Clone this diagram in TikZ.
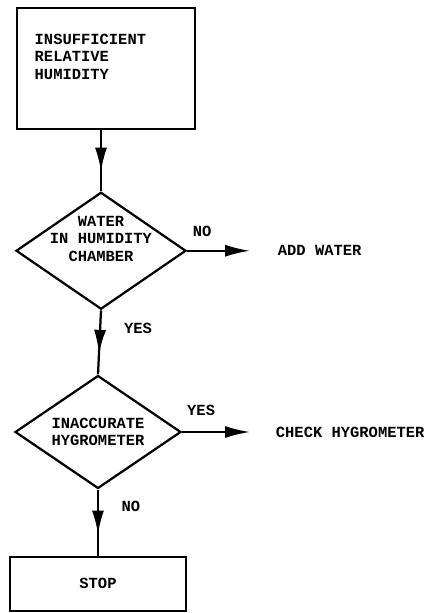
\documentclass[tikz,border=0pt]{standalone}
\usepackage{fontspec}
\setmonofont{Liberation Mono}
\usetikzlibrary{arrows.meta, positioning, shapes.geometric, decorations.markings}

\begin{document}
\begin{tikzpicture}[line width=1.6pt,
  every node/.style={font=\ttfamily\bfseries\fontsize{11}{12.5}\selectfont},
  box/.style={draw, rectangle, inner sep=0pt},
  decision/.style={draw, diamond, aspect=1.45, inner sep=0pt, align=center},
  txt/.style={align=center},
  flow/.style={postaction={decorate}, decoration={markings,
    mark=at position 0.68 with {\arrow{Latex[length=6mm,width=3mm]}}}},
  exit/.style={-{Latex[length=6.25mm,width=3mm]}}]
  \useasboundingbox (0,0) rectangle (10.675,-15.325);
  \node[box, minimum width=4.45cm, minimum height=3.025cm] (cause) at (2.65,-1.7125) {};
  \node[txt, align=left] (causetext) at ([xshift=-3.9mm, yshift=2.9mm]cause.center) {INSUFFICIENT\\RELATIVE\\HUMIDITY};
  \node[decision, minimum width=4.25cm, minimum height=2.925cm, below=1.525cm of cause, xshift=-1.25mm] (water) {};
  \node[txt] (watertext) at ([yshift=3mm]water.center) {WATER\\IN HUMIDITY\\CHAMBER};
  \node[decision, minimum width=4.15cm, minimum height=2.825cm, below=1.6cm of water, xshift=-0.75mm] (hygro) {INACCURATE\\HYGROMETER};
  \node[box, minimum width=4.4cm, minimum height=1.35cm, below=1.65cm of hygro] (stop) {STOP};
  \node[right=2.125cm of water] (addwater) {ADD WATER};
  \node[right=2.2cm of hygro] (check) {CHECK HYGROMETER};
  % branch labels
  \node (no1) at ([shift={(3.75mm,4.9mm)}]water.east) {NO};
  \node (yes1) at ([shift={(9.25mm,-4.5mm)}]water.south) {YES};
  \node (yes2) at ([shift={(4.75mm,5.4mm)}]hygro.east) {YES};
  \node (no2) at ([shift={(8.25mm,-4.25mm)}]hygro.south) {NO};
  \draw[flow] (water.north |- cause.south) -- (water.north);
  \draw[flow] (water.south) -- (hygro.north);
  \draw[flow] (hygro.south) -- (stop.north);
  \draw[exit, shorten >=5.5mm] (water.east) -- (addwater.west);
  \draw[exit, shorten >=5mm] (hygro.east) -- (check.west);
\end{tikzpicture}
\end{document}
